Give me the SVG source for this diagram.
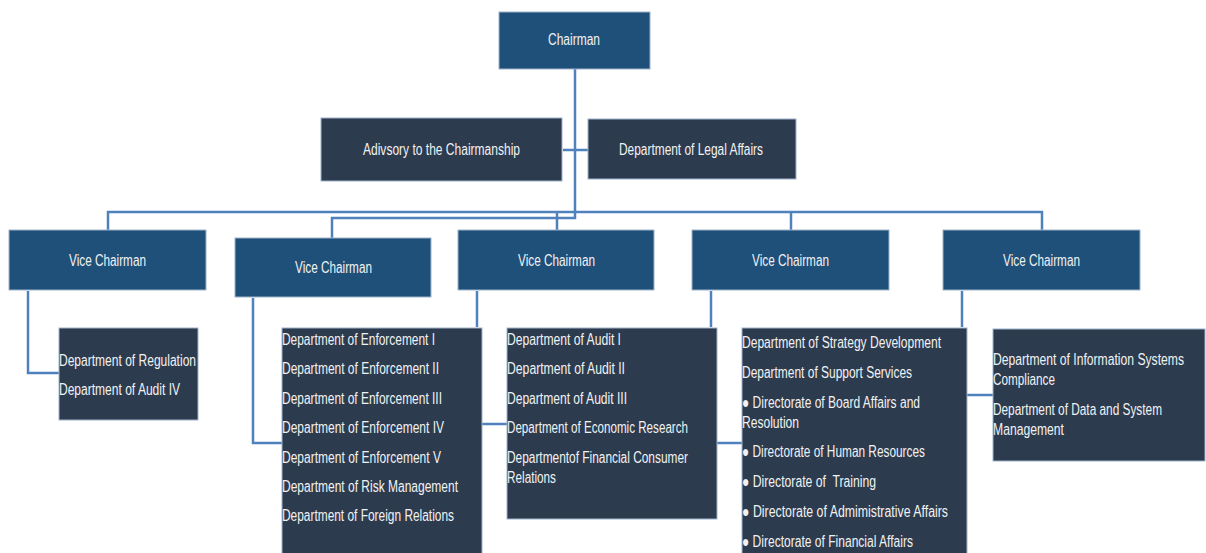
<svg xmlns="http://www.w3.org/2000/svg" width="1206" height="553" viewBox="0 0 1206 553">
<style>
.vc{fill:#1F5079;stroke:#9FB4CC;stroke-width:1}
.dp{fill:#2C3B4E;stroke:#9FB4CC;stroke-width:1}
text{font-family:"Liberation Sans",Arial,sans-serif;font-size:16px;fill:#F2F2F2}
.c{text-anchor:middle}
.ln{fill:none;stroke:#4F81BD;stroke-width:2.5}
</style>
<rect width="1206" height="553" fill="#FFFFFF"/>
<g id="connectors">
<path class="ln" d="M575,69 V218 H332 V238"/>
<path class="ln" d="M563,150 H588"/>
<path class="ln" d="M108,230 V212 H1042 V230"/>
<path class="ln" d="M557,212 V230"/>
<path class="ln" d="M791,212 V230"/>
<path class="ln" d="M28,291 V373 H59"/>
<path class="ln" d="M253,298 V443 H282"/>
<path class="ln" d="M477,291 V327"/>
<path class="ln" d="M711,291 V327"/>
<path class="ln" d="M962,291 V327"/>
<path class="ln" d="M482,424 H507"/>
<path class="ln" d="M717,443 H742"/>
<path class="ln" d="M967,395 H993"/>
</g>
<g id="chairman">
<rect class="vc" x="499" y="12" width="151" height="57"/>
<text x="574" y="45" class="c" textLength="52" lengthAdjust="spacingAndGlyphs">Chairman</text>
</g>
<g id="advisory">
<rect class="dp" x="321" y="118" width="241" height="63"/>
<text x="363" y="155" textLength="157" lengthAdjust="spacingAndGlyphs">Adivsory to the Chairmanship</text>
</g>
<g id="legal">
<rect class="dp" x="588" y="119" width="208" height="60"/>
<text x="619" y="155" textLength="144" lengthAdjust="spacingAndGlyphs">Department of Legal Affairs</text>
</g>
<g id="vc1">
<rect class="vc" x="9" y="230" width="197" height="60"/>
<text x="69" y="266" textLength="77" lengthAdjust="spacingAndGlyphs">Vice Chairman</text>
</g>
<g id="vc2">
<rect class="vc" x="235" y="238" width="196" height="59"/>
<text x="295" y="273" textLength="77" lengthAdjust="spacingAndGlyphs">Vice Chairman</text>
</g>
<g id="vc3">
<rect class="vc" x="458" y="230" width="196" height="60"/>
<text x="518" y="266" textLength="77" lengthAdjust="spacingAndGlyphs">Vice Chairman</text>
</g>
<g id="vc4">
<rect class="vc" x="692" y="230" width="197" height="60"/>
<text x="752" y="266" textLength="77" lengthAdjust="spacingAndGlyphs">Vice Chairman</text>
</g>
<g id="vc5">
<rect class="vc" x="943" y="230" width="197" height="60"/>
<text x="1003" y="266" textLength="77" lengthAdjust="spacingAndGlyphs">Vice Chairman</text>
</g>
<g id="regulation">
<rect class="dp" x="59" y="328" width="139" height="92"/>
<text x="59" y="366" textLength="137" lengthAdjust="spacingAndGlyphs">Department of Regulation</text>
<text x="59" y="395" textLength="121" lengthAdjust="spacingAndGlyphs">Department of Audit IV</text>
</g>
<g id="enforcement">
<rect class="dp" x="282" y="328" width="200" height="230"/>
<text x="282" y="345" textLength="153" lengthAdjust="spacingAndGlyphs">Department of Enforcement I</text>
<text x="282" y="374" textLength="157" lengthAdjust="spacingAndGlyphs">Department of Enforcement II</text>
<text x="282" y="404" textLength="160" lengthAdjust="spacingAndGlyphs">Department of Enforcement III</text>
<text x="282" y="433" textLength="162" lengthAdjust="spacingAndGlyphs">Department of Enforcement IV</text>
<text x="282" y="463" textLength="159" lengthAdjust="spacingAndGlyphs">Department of Enforcement V</text>
<text x="282" y="492" textLength="176" lengthAdjust="spacingAndGlyphs">Department of Risk Management</text>
<text x="282" y="521" textLength="172" lengthAdjust="spacingAndGlyphs">Department of Foreign Relations</text>
</g>
<g id="audit">
<rect class="dp" x="507" y="328" width="210" height="191"/>
<text x="507" y="345" textLength="114" lengthAdjust="spacingAndGlyphs">Department of Audit I</text>
<text x="507" y="374" textLength="118" lengthAdjust="spacingAndGlyphs">Department of Audit II</text>
<text x="507" y="404" textLength="120" lengthAdjust="spacingAndGlyphs">Department of Audit III</text>
<text x="507" y="433" textLength="181" lengthAdjust="spacingAndGlyphs">Department of Economic Research</text>
<text x="507" y="463" textLength="181" lengthAdjust="spacingAndGlyphs">Departmentof Financial Consumer</text>
<text x="507" y="483" textLength="49" lengthAdjust="spacingAndGlyphs">Relations</text>
</g>
<g id="strategy">
<rect class="dp" x="742" y="328" width="225" height="230"/>
<text x="742" y="348" textLength="199" lengthAdjust="spacingAndGlyphs">Department of Strategy Development</text>
<text x="742" y="378" textLength="170" lengthAdjust="spacingAndGlyphs">Department of Support Services</text>
<text x="742" y="408" textLength="178" lengthAdjust="spacingAndGlyphs">● Directorate of Board Affairs and</text>
<text x="742" y="428" textLength="57" lengthAdjust="spacingAndGlyphs">Resolution</text>
<text x="742" y="457" textLength="183" lengthAdjust="spacingAndGlyphs">● Directorate of Human Resources</text>
<text x="742" y="487" textLength="134" lengthAdjust="spacingAndGlyphs" xml:space="preserve">● Directorate of  Training</text>
<text x="742" y="517" textLength="206" lengthAdjust="spacingAndGlyphs">● Directorate of Admimistrative Affairs</text>
<text x="742" y="547" textLength="171" lengthAdjust="spacingAndGlyphs">● Directorate of Financial Affairs</text>
</g>
<g id="information">
<rect class="dp" x="993" y="329" width="212" height="132"/>
<text x="993" y="365" textLength="191" lengthAdjust="spacingAndGlyphs">Department of Information Systems</text>
<text x="993" y="385" textLength="62" lengthAdjust="spacingAndGlyphs">Compliance</text>
<text x="993" y="415" textLength="169" lengthAdjust="spacingAndGlyphs">Department of Data and System</text>
<text x="993" y="435" textLength="71" lengthAdjust="spacingAndGlyphs">Management</text>
</g>
</svg>
